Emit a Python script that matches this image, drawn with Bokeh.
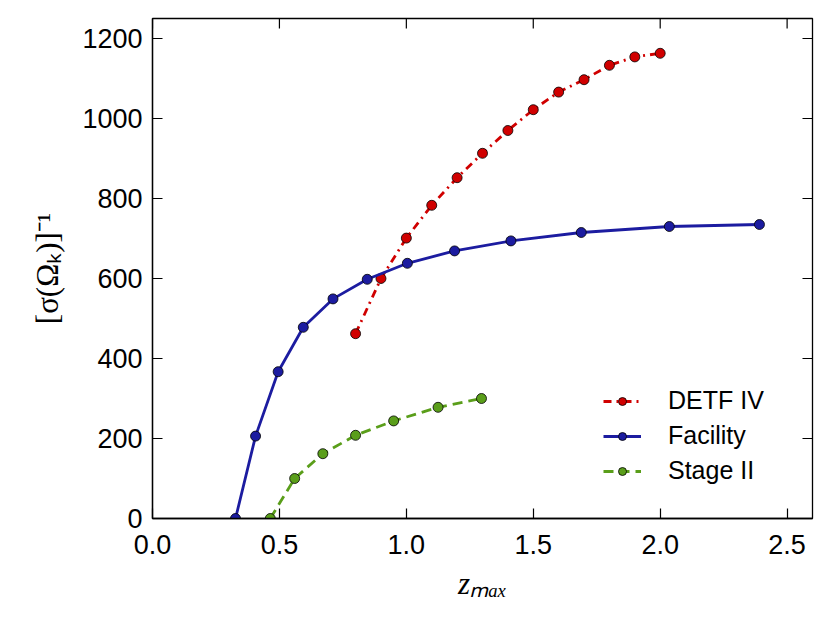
from bokeh.plotting import figure
from bokeh.models import (Range1d, Legend, LegendItem,
                          FixedTicker, NumeralTickFormatter)
from bokeh.embed import file_html
from bokeh.resources import INLINE

# ---- data ----
detf_z = [0.80, 0.90, 1.00, 1.10, 1.20, 1.30, 1.40, 1.50, 1.60, 1.70, 1.80, 1.90, 2.00]
detf_v = [462, 600, 701, 783, 852, 913, 970, 1022, 1066, 1097, 1133, 1154, 1163]
fac_z = [0.327, 0.406, 0.495, 0.594, 0.711, 0.846, 1.004, 1.19, 1.412, 1.689, 2.036, 2.391]
fac_v = [0, 206, 367, 478, 549, 598, 638, 669, 694, 715, 730, 735]
st2_z = [0.464, 0.56, 0.671, 0.80, 0.95, 1.125, 1.296]
st2_v = [0, 100, 162, 208, 244, 278, 300]

x_ticks = [0.0, 0.5, 1.0, 1.5, 2.0, 2.5]
y_ticks = [0, 200, 400, 600, 800, 1000, 1200]
series_names = ["DETF IV", "Facility", "Stage II"]
x_label = "zₘₐₓ"
y_label = "[σ(Ωₖ)]⁻¹"

X_MIN, X_MAX = 0.0, 2.6
Y_MIN, Y_MAX = 0.0, 1250.0

RED = "#d00000"
BLUE = "#1c1ca0"
GREEN = "#5a9e1a"

W, H = 814, 607
BL, BR, BT, BB = 152, 2, 18, 89

p = figure(width=W, height=H, output_backend="svg", toolbar_location=None,
           x_range=Range1d(X_MIN, X_MAX), y_range=Range1d(Y_MIN, Y_MAX),
           min_border_left=BL, min_border_right=BR, min_border_top=BT,
           min_border_bottom=BB)
p.xgrid.grid_line_color = None
p.ygrid.grid_line_color = None
p.outline_line_color = "black"
p.outline_line_width = 1.3
p.background_fill_color = "white"
p.border_fill_color = "white"

TICK_FONT = "Liberation Sans"
SERIF = "Liberation Serif"

def style_axis(ax, ticks, standoff):
    ax.ticker = FixedTicker(ticks=ticks)
    ax.minor_tick_line_color = None
    ax.major_tick_in = 10
    ax.major_tick_out = 0
    ax.major_tick_line_color = "black"
    ax.major_tick_line_width = 1.2
    ax.axis_line_color = "black"
    ax.axis_line_width = 1.3
    ax.major_label_text_font = TICK_FONT
    ax.major_label_text_font_size = "27px"
    ax.major_label_text_color = "black"
    ax.major_label_standoff = standoff

style_axis(p.xaxis[0], x_ticks, 16)
style_axis(p.yaxis[0], y_ticks, 10)
p.xaxis[0].formatter = NumeralTickFormatter(format="0.0")

p.xaxis[0].axis_label = x_label
p.xaxis[0].axis_label_text_font = SERIF
p.xaxis[0].axis_label_text_font_style = "italic"
p.xaxis[0].axis_label_text_font_size = "31px"
p.xaxis[0].axis_label_text_color = "black"
p.xaxis[0].axis_label_standoff = 9

p.yaxis[0].axis_label = y_label
p.yaxis[0].axis_label_text_font = SERIF
p.yaxis[0].axis_label_text_font_style = "normal"
p.yaxis[0].axis_label_text_font_size = "31px"
p.yaxis[0].axis_label_text_color = "black"
p.yaxis[0].axis_label_standoff = 14

# ---- inward ticks on the top and right edges of the frame ----
frame_w = W - BL - BR
frame_h = H - BT - BB
tick_px = 10
dx = tick_px * (X_MAX - X_MIN) / frame_w
dy = tick_px * (Y_MAX - Y_MIN) / frame_h
p.segment(x0=x_ticks, y0=[Y_MAX] * len(x_ticks), x1=x_ticks,
          y1=[Y_MAX - dy] * len(x_ticks), line_color="black", line_width=1.2)
p.segment(x0=[X_MAX] * len(y_ticks), y0=y_ticks, x1=[X_MAX - dx] * len(y_ticks),
          y1=y_ticks, line_color="black", line_width=1.2)

# ---- series ----
r_line = p.line(detf_z, detf_v, line_color=RED, line_width=2.8, line_dash="8 5 2 5")
r_pts = p.scatter(detf_z, detf_v, size=10, fill_color=RED, line_color="black", line_width=0.8)
b_line = p.line(fac_z, fac_v, line_color=BLUE, line_width=2.8)
b_pts = p.scatter(fac_z, fac_v, size=10, fill_color=BLUE, line_color="black", line_width=0.8)
g_line = p.line(st2_z, st2_v, line_color=GREEN, line_width=2.8, line_dash="10 6")
g_pts = p.scatter(st2_z, st2_v, size=10, fill_color=GREEN, line_color="black", line_width=0.8)

legend = Legend(items=[
    LegendItem(label=series_names[0], renderers=[r_line, r_pts]),
    LegendItem(label=series_names[1], renderers=[b_line, b_pts]),
    LegendItem(label=series_names[2], renderers=[g_line, g_pts]),
], location=(451, 30))
legend.border_line_color = None
legend.background_fill_alpha = 0
legend.label_text_font = TICK_FONT
legend.label_text_font_size = "25px"
legend.label_text_color = "black"
legend.glyph_width = 38
legend.glyph_height = 20
legend.label_height = 35
legend.label_standoff = 27
legend.spacing = 0
legend.padding = 0
legend.margin = 0
p.add_layout(legend, "center")

open("out.html", "w").write(file_html(p, INLINE))
